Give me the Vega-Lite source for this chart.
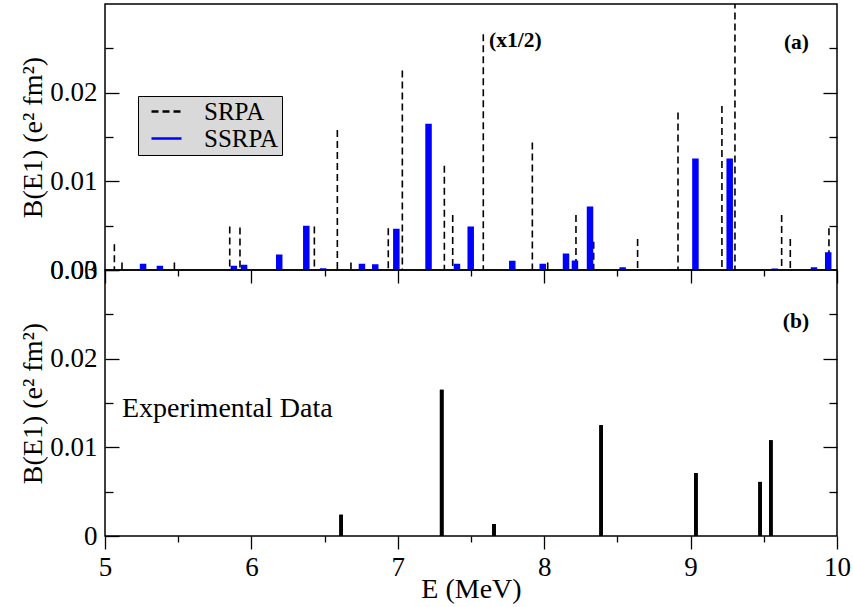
{
  "$schema": "https://vega.github.io/schema/vega-lite/v6.json",
  "padding": {"left": 19, "top": 3, "right": 5, "bottom": 0},
  "background": "white",
  "spacing": 0,
  "bounds": "flush",
  "config": {
    "view": {"stroke": "black", "strokeWidth": 1.5},
    "axis": {"domain": false, "grid": false, "tickColor": "black", "tickWidth": 1.3, "labelColor": "black", "labelFont": "Liberation Serif", "labelFontSize": 27, "titleFont": "Liberation Serif", "titleFontSize": 28, "titleFontWeight": "normal", "titleColor": "black", "labelFlush": false, "labelOverlap": false},
    "legend": {"fillColor": "#d9d9d9", "strokeColor": "black", "padding": 3, "labelFont": "Liberation Serif", "labelFontSize": 25, "labelColor": "black", "symbolType": "M-1.5,0H1.5", "symbolSize": 400, "symbolStrokeWidth": 2.5, "symbolOffset": 13, "labelOffset": 25, "rowPadding": 1}
  },
  "datasets": {
    "srpa": [
      {"E": 5.064, "B": 0.0029, "model": "SRPA"},
      {"E": 5.116, "B": 0.00085, "model": "SRPA"},
      {"E": 5.474, "B": 0.00085, "model": "SRPA"},
      {"E": 5.852, "B": 0.0049, "model": "SRPA"},
      {"E": 5.922, "B": 0.0048, "model": "SRPA"},
      {"E": 6.43, "B": 0.0049, "model": "SRPA"},
      {"E": 6.587, "B": 0.0158, "model": "SRPA"},
      {"E": 6.68, "B": 0.00085, "model": "SRPA"},
      {"E": 6.935, "B": 0.0047, "model": "SRPA"},
      {"E": 7.031, "B": 0.0225, "model": "SRPA"},
      {"E": 7.318, "B": 0.01175, "model": "SRPA"},
      {"E": 7.375, "B": 0.0062, "model": "SRPA"},
      {"E": 7.584, "B": 0.0266, "model": "SRPA"},
      {"E": 7.919, "B": 0.01437, "model": "SRPA"},
      {"E": 8.024, "B": 0.00085, "model": "SRPA"},
      {"E": 8.217, "B": 0.0062, "model": "SRPA"},
      {"E": 8.338, "B": 0.0032, "model": "SRPA"},
      {"E": 8.638, "B": 0.0035, "model": "SRPA"},
      {"E": 8.914, "B": 0.01776, "model": "SRPA"},
      {"E": 9.214, "B": 0.0185, "model": "SRPA"},
      {"E": 9.303, "B": 0.034, "model": "SRPA"},
      {"E": 9.622, "B": 0.0062, "model": "SRPA"},
      {"E": 9.681, "B": 0.0035, "model": "SRPA"},
      {"E": 9.945, "B": 0.0047, "model": "SRPA"}
    ],
    "ssrpa": [
      {"E": 5.26, "B": 0.0007, "model": "SSRPA"},
      {"E": 5.375, "B": 0.00047, "model": "SSRPA"},
      {"E": 5.88, "B": 0.00047, "model": "SSRPA"},
      {"E": 5.95, "B": 0.0006, "model": "SSRPA"},
      {"E": 6.19, "B": 0.00175, "model": "SSRPA"},
      {"E": 6.375, "B": 0.005, "model": "SSRPA"},
      {"E": 6.49, "B": 0.0002, "model": "SSRPA"},
      {"E": 6.755, "B": 0.0007, "model": "SSRPA"},
      {"E": 6.846, "B": 0.00065, "model": "SSRPA"},
      {"E": 6.99, "B": 0.00464, "model": "SSRPA"},
      {"E": 7.21, "B": 0.0165, "model": "SSRPA"},
      {"E": 7.404, "B": 0.0007, "model": "SSRPA"},
      {"E": 7.498, "B": 0.0049, "model": "SSRPA"},
      {"E": 7.782, "B": 0.00104, "model": "SSRPA"},
      {"E": 7.99, "B": 0.0007, "model": "SSRPA"},
      {"E": 8.149, "B": 0.00186, "model": "SSRPA"},
      {"E": 8.21, "B": 0.00107, "model": "SSRPA"},
      {"E": 8.313, "B": 0.00716, "model": "SSRPA"},
      {"E": 8.536, "B": 0.0003, "model": "SSRPA"},
      {"E": 8.878, "B": 0.0001, "model": "SSRPA"},
      {"E": 9.033, "B": 0.01257, "model": "SSRPA"},
      {"E": 9.267, "B": 0.01257, "model": "SSRPA"},
      {"E": 9.575, "B": 0.00018, "model": "SSRPA"},
      {"E": 9.843, "B": 0.0003, "model": "SSRPA"},
      {"E": 9.94, "B": 0.002, "model": "SSRPA"}
    ],
    "exp": [
      {"E": 6.613, "B": 0.0024},
      {"E": 7.3, "B": 0.0165},
      {"E": 7.657, "B": 0.00135},
      {"E": 8.389, "B": 0.0125},
      {"E": 9.036, "B": 0.0071},
      {"E": 9.475, "B": 0.0061},
      {"E": 9.548, "B": 0.0108}
    ]
  },
  "vconcat": [
    {
      "width": 732,
      "height": 266,
      "resolve": {"axis": {"y": "independent"}},
      "layer": [
        {
          "data": {"name": "srpa"},
          "mark": {"type": "rule", "strokeWidth": 1.6, "clip": true},
          "encoding": {
            "x": {"field": "E", "type": "quantitative", "scale": {"domain": [5, 10], "nice": false}, "axis": null},
            "y": {"field": "B", "type": "quantitative", "scale": {"domain": [0, 0.03], "nice": false}, "axis": {"orient": "left", "values": [0, 0.01, 0.02], "format": ".2f", "tickSize": -14, "labelPadding": 22, "title": "B(E1) (e² fm²)", "titlePadding": 2}},
            "y2": {"datum": 0},
            "color": {"field": "model", "type": "nominal", "scale": {"domain": ["SRPA", "SSRPA"], "range": ["black", "#0000ff"]}, "legend": {"orient": "none", "legendX": 33, "legendY": 92, "title": null, "labelExpr": "datum.label + '\u00a0'"}},
            "strokeDash": {"field": "model", "type": "nominal", "scale": {"domain": ["SRPA", "SSRPA"], "range": [[7, 4], [1, 0]]}, "legend": {"orient": "none", "legendX": 33, "legendY": 92, "title": null, "labelExpr": "datum.label + '\u00a0'"}}
          }
        },
        {
          "data": {"name": "ssrpa"},
          "mark": {"type": "rule", "strokeWidth": 6.5, "clip": true},
          "encoding": {
            "x": {"field": "E", "type": "quantitative", "axis": null},
            "y": {"field": "B", "type": "quantitative", "axis": {"orient": "left", "values": [0.005, 0.015, 0.025], "tickSize": -8, "labels": false, "title": null}},
            "y2": {"datum": 0},
            "color": {"field": "model", "type": "nominal"},
            "strokeDash": {"field": "model", "type": "nominal"}
          }
        },
        {
          "data": {"values": [{"label": "(x1/2)", "E": 7.623, "B": 0.0258}]},
          "mark": {"type": "text", "align": "left", "baseline": "middle", "fontWeight": "bold", "fontSize": 21.5, "font": "Liberation Serif", "color": "black"},
          "encoding": {
            "text": {"field": "label"},
            "x": {"field": "E", "type": "quantitative", "axis": null},
            "y": {"field": "B", "type": "quantitative", "axis": {"orient": "right", "values": [0.01, 0.02], "tickSize": -14, "labels": false, "title": null}}
          }
        },
        {
          "data": {"values": [{"label": "(a)", "E": 9.723, "B": 0.0256}]},
          "mark": {"type": "text", "align": "center", "baseline": "middle", "fontWeight": "bold", "fontSize": 21.5, "font": "Liberation Serif", "color": "black"},
          "encoding": {
            "text": {"field": "label"},
            "x": {"field": "E", "type": "quantitative", "axis": null},
            "y": {"field": "B", "type": "quantitative", "axis": {"orient": "right", "values": [0.005, 0.015, 0.025], "tickSize": -8, "labels": false, "title": null}}
          }
        }
      ]
    },
    {
      "width": 732,
      "height": 266,
      "resolve": {"axis": {"x": "independent", "y": "independent"}},
      "layer": [
        {
          "data": {"name": "exp"},
          "mark": {"type": "rule", "strokeWidth": 3.7, "color": "black"},
          "encoding": {
            "x": {"field": "E", "type": "quantitative", "scale": {"domain": [5, 10], "nice": false}, "axis": {"orient": "bottom", "values": [5, 6, 7, 8, 9, 10], "format": "d", "tickSize": 13, "labelPadding": 5, "title": "E (MeV)", "titlePadding": -5}},
            "y": {"field": "B", "type": "quantitative", "scale": {"domain": [0, 0.03], "nice": false}, "axis": {"orient": "left", "values": [0, 0.01, 0.02, 0.03], "labelExpr": "datum.value == 0 ? '0' : format(datum.value, '.2f')", "tickSize": -14, "labelPadding": 22, "title": "B(E1) (e² fm²)", "titlePadding": 2}},
            "y2": {"datum": 0}
          }
        },
        {
          "data": {"values": [{"label": "Experimental Data", "E": 5.116, "B": 0.01337}]},
          "mark": {"type": "text", "align": "left", "baseline": "alphabetic", "fontSize": 28, "font": "Liberation Serif", "color": "black"},
          "encoding": {
            "text": {"field": "label"},
            "x": {"field": "E", "type": "quantitative", "axis": {"orient": "bottom", "values": [5.5, 6.5, 7.5, 8.5, 9.5], "tickSize": 6, "labels": false, "title": null}},
            "y": {"field": "B", "type": "quantitative", "axis": {"orient": "left", "values": [0.005, 0.015, 0.025], "tickSize": -8, "labels": false, "title": null}}
          }
        },
        {
          "data": {"values": [{"label": "(b)", "E": 9.72, "B": 0.0241}]},
          "mark": {"type": "text", "align": "center", "baseline": "middle", "fontWeight": "bold", "fontSize": 21.5, "font": "Liberation Serif", "color": "black"},
          "encoding": {
            "text": {"field": "label"},
            "x": {"field": "E", "type": "quantitative", "axis": {"orient": "top", "values": [5, 6, 7, 8, 9, 10], "tickSize": -13, "labels": false, "title": null}},
            "y": {"field": "B", "type": "quantitative", "axis": {"orient": "right", "values": [0.01, 0.02], "tickSize": -14, "labels": false, "title": null}}
          }
        },
        {
          "data": {"name": "exp"},
          "mark": {"type": "rule", "strokeWidth": 3.7, "color": "black"},
          "encoding": {
            "x": {"field": "E", "type": "quantitative", "axis": {"orient": "top", "values": [5.5, 6.5, 7.5, 8.5, 9.5], "tickSize": -6, "labels": false, "title": null}},
            "y": {"field": "B", "type": "quantitative", "axis": {"orient": "right", "values": [0.005, 0.015, 0.025], "tickSize": -8, "labels": false, "title": null}},
            "y2": {"datum": 0}
          }
        }
      ]
    }
  ]
}
